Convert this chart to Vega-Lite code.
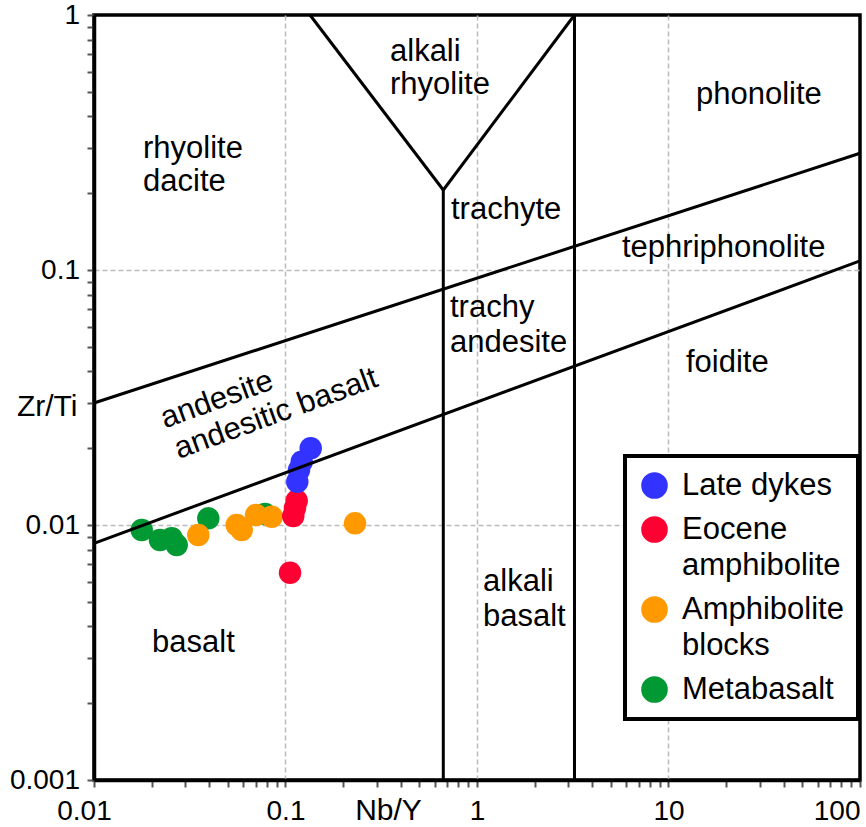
{
  "$schema": "https://vega.github.io/schema/vega-lite/v6.json",
  "width": 766,
  "height": 765,
  "autosize": {"type": "none"},
  "padding": {"left": 94, "top": 15, "right": 6, "bottom": 47},
  "background": "white",
  "config": {
    "font": "Liberation Sans",
    "view": {"stroke": "black", "strokeWidth": 3.5},
    "legend": {"strokeWidth": 4},
    "axis": {
      "domainColor": "black",
      "domainWidth": 3.5,
      "tickColor": "#555555",
      "tickWidth": 2,
      "tickSize": 7,
      "labelColor": "black",
      "labelFontSize": 28,
      "labelOverlap": false,
      "labelBound": false,
      "labelFlush": false,
      "grid": true,
      "gridColor": "#bbbbbb",
      "gridDash": [5, 3],
      "gridWidth": 1.5,
      "titleColor": "black",
      "titleFontSize": 30,
      "titleFontWeight": "normal",
      "titlePadding": 0
    }
  },
  "datasets": {
    "samples": [
      {"group": "Metabasalt", "nb_y": 0.01775, "zr_ti": 0.00956},
      {"group": "Metabasalt", "nb_y": 0.02211, "zr_ti": 0.00873},
      {"group": "Metabasalt", "nb_y": 0.02545, "zr_ti": 0.00887},
      {"group": "Metabasalt", "nb_y": 0.02703, "zr_ti": 0.00835},
      {"group": "Metabasalt", "nb_y": 0.03953, "zr_ti": 0.01062},
      {"group": "Metabasalt", "nb_y": 0.07816, "zr_ti": 0.01104},
      {"group": "Amphibolite blocks", "nb_y": 0.2307, "zr_ti": 0.01015},
      {"group": "Amphibolite blocks", "nb_y": 0.08472, "zr_ti": 0.01078},
      {"group": "Amphibolite blocks", "nb_y": 0.07015, "zr_ti": 0.01094},
      {"group": "Amphibolite blocks", "nb_y": 0.05906, "zr_ti": 0.00956},
      {"group": "Amphibolite blocks", "nb_y": 0.05563, "zr_ti": 0.0100},
      {"group": "Amphibolite blocks", "nb_y": 0.03504, "zr_ti": 0.00914},
      {"group": "Eocene amphibolite", "nb_y": 0.1144, "zr_ti": 0.01246},
      {"group": "Eocene amphibolite", "nb_y": 0.1121, "zr_ti": 0.01166},
      {"group": "Eocene amphibolite", "nb_y": 0.1098, "zr_ti": 0.01085},
      {"group": "Eocene amphibolite", "nb_y": 0.1056, "zr_ti": 0.0065},
      {"group": "Late dykes", "nb_y": 0.1354, "zr_ti": 0.0200},
      {"group": "Late dykes", "nb_y": 0.1215, "zr_ti": 0.01772},
      {"group": "Late dykes", "nb_y": 0.1176, "zr_ti": 0.01643},
      {"group": "Late dykes", "nb_y": 0.1152, "zr_ti": 0.01478}
    ],
    "boundaries": [
      {"nb_y": 0.01, "zr_ti": 0.0301, "nb_y2": 100, "zr_ti2": 0.2869},
      {"nb_y": 0.01, "zr_ti": 0.008478, "nb_y2": 100, "zr_ti2": 0.1085},
      {"nb_y": 0.6668, "zr_ti": 0.001, "nb_y2": 0.6668, "zr_ti2": 0.2059},
      {"nb_y": 0.1343, "zr_ti": 1, "nb_y2": 0.6668, "zr_ti2": 0.2059},
      {"nb_y": 0.6668, "zr_ti": 0.2059, "nb_y2": 3.229, "zr_ti2": 1},
      {"nb_y": 3.229, "zr_ti": 0.001, "nb_y2": 3.229, "zr_ti2": 1}
    ],
    "fields": [
      {"label": "rhyolite", "nb_y": 0.01803, "zr_ti": 0.2982},
      {"label": "dacite", "nb_y": 0.01803, "zr_ti": 0.2214},
      {"label": "alkali", "nb_y": 0.3513, "zr_ti": 0.716},
      {"label": "rhyolite", "nb_y": 0.3513, "zr_ti": 0.5314},
      {"label": "trachyte", "nb_y": 0.7314, "zr_ti": 0.1719},
      {"label": "phonolite", "nb_y": 13.92, "zr_ti": 0.4856},
      {"label": "tephriphonolite", "nb_y": 5.717, "zr_ti": 0.122},
      {"label": "foidite", "nb_y": 12.34, "zr_ti": 0.04318},
      {"label": "trachy", "nb_y": 0.7228, "zr_ti": 0.07096},
      {"label": "andesite", "nb_y": 0.7228, "zr_ti": 0.05172},
      {"label": "alkali", "nb_y": 1.075, "zr_ti": 0.005977},
      {"label": "basalt", "nb_y": 1.075, "zr_ti": 0.004357},
      {"label": "basalt", "nb_y": 0.02009, "zr_ti": 0.003446}
    ],
    "tilted": [
      {"label": "andesite", "nb_y": 0.04389, "zr_ti": 0.03092},
      {"label": "andesitic basalt", "nb_y": 0.08921, "zr_ti": 0.02725}
    ]
  },
  "encoding": {
    "x": {
      "field": "nb_y",
      "type": "quantitative",
      "scale": {"type": "log", "domain": [0.01, 100], "nice": false},
      "axis": {
        "title": "Nb/Y",
        "titleX": 294,
        "titleY": 39.5,
        "titleAlign": "center",
        "titleBaseline": "alphabetic",
        "values": [0.01, 0.02, 0.03, 0.04, 0.05, 0.06, 0.07, 0.08, 0.09, 0.1, 0.2, 0.3, 0.4, 0.5, 0.6, 0.7, 0.8, 0.9, 1, 2, 3, 4, 5, 6, 7, 8, 9, 10, 20, 30, 40, 50, 60, 70, 80, 90, 100],
        "labelExpr": "abs(log(datum.value) / LN10 - round(log(datum.value) / LN10)) < 0.001 ? format(datum.value, '~g') : ''",
        "labelPadding": 10,
        "labelAlign": {"condition": {"test": "datum.value > 50", "value": "right"}, "value": "center"},
        "labelOffset": {"condition": {"test": "datum.value < 0.015", "value": -10}, "value": 0},
        "gridOpacity": {"condition": {"test": "datum.value > 0.011 && datum.value < 90 && abs(log(datum.value) / LN10 - round(log(datum.value) / LN10)) < 0.001", "value": 1}, "value": 0}
      }
    },
    "y": {
      "field": "zr_ti",
      "type": "quantitative",
      "scale": {"type": "log", "domain": [0.001, 1], "nice": false},
      "axis": {
        "title": "Zr/Ti",
        "titleAngle": 0,
        "titleX": -17,
        "titleY": 400,
        "titleAlign": "right",
        "titleBaseline": "alphabetic",
        "values": [0.001, 0.002, 0.003, 0.004, 0.005, 0.006, 0.007, 0.008, 0.009, 0.01, 0.02, 0.03, 0.04, 0.05, 0.06, 0.07, 0.08, 0.09, 0.1, 0.2, 0.3, 0.4, 0.5, 0.6, 0.7, 0.8, 0.9, 1],
        "labelExpr": "abs(log(datum.value) / LN10 - round(log(datum.value) / LN10)) < 0.001 ? format(datum.value, '~g') : ''",
        "labelPadding": 7.5,
        "gridOpacity": {"condition": {"test": "datum.value > 0.0011 && datum.value < 0.9 && abs(log(datum.value) / LN10 - round(log(datum.value) / LN10)) < 0.001", "value": 1}, "value": 0}
      }
    }
  },
  "layer": [
    {
      "data": {"name": "samples"},
      "mark": {"type": "point", "filled": true, "opacity": 1, "size": 506, "strokeWidth": 0},
      "encoding": {
        "color": {
          "field": "group",
          "type": "nominal",
          "scale": {
            "domain": ["Late dykes", "Eocene amphibolite", "Amphibolite blocks", "Metabasalt"],
            "range": ["#3333ff", "#ff0033", "#ff9900", "#009933"]
          },
          "legend": {
            "title": null,
            "orient": "none",
            "legendX": 531,
            "legendY": 441,
            "padding": 14,
            "fillColor": "white",
            "strokeColor": "black",
            "symbolType": "circle",
            "symbolSize": 708,
            "symbolStrokeWidth": 0,
            "symbolOpacity": 1,
            "labelFont": "Liberation Sans",
            "labelFontSize": 31,
            "labelColor": "black",
            "labelLimit": 400,
            "labelOffset": 12,
            "labelBaseline": "top",
            "rowPadding": 12,
            "labelExpr": "datum.label == 'Late dykes' ? datum.label : split(datum.label, ' ')",
            "encoding": {
              "labels": {"dy": {"value": -15}, "lineHeight": {"value": 36}},
              "legend": {"strokeWidth": {"value": 4}}
            }
          }
        }
      }
    },
    {
      "data": {"name": "boundaries"},
      "mark": {"type": "rule", "color": "black", "strokeWidth": 3},
      "encoding": {
        "x2": {"field": "nb_y2"},
        "y2": {"field": "zr_ti2"}
      }
    },
    {
      "data": {"name": "fields"},
      "mark": {"type": "text", "align": "left", "baseline": "middle", "fontSize": 31, "color": "black", "font": "Liberation Sans"},
      "encoding": {"text": {"field": "label", "type": "nominal"}}
    },
    {
      "data": {"name": "tilted"},
      "mark": {"type": "text", "align": "center", "baseline": "middle", "angle": -20, "fontSize": 31, "color": "black", "font": "Liberation Sans"},
      "encoding": {"text": {"field": "label", "type": "nominal"}}
    }
  ]
}
